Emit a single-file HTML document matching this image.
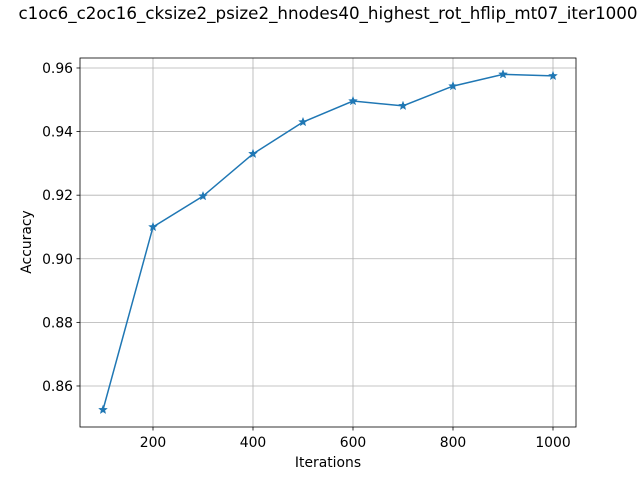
<!DOCTYPE html>
<html><head><meta charset="utf-8"><style>
body{margin:0;background:#fff;}
svg text{font-family:"DejaVu Sans","Liberation Sans",sans-serif;}
</style></head><body>
<svg id="chart" width="640" height="480" xmlns="http://www.w3.org/2000/svg">
<rect width="640" height="480" fill="#fff"/>
<text x="328" y="19" font-size="16.7" text-anchor="middle">c1oc6_c2oc16_cksize2_psize2_hnodes40_highest_rot_hflip_mt07_iter1000</text>
<g id="grid"></g>
<g id="ticks"></g>
<path id="line" fill="none" stroke="#1f77b4" stroke-width="1.5"/>
<g id="markers"></g>
<rect x="80" y="58" width="496" height="369" fill="none" stroke="#000" stroke-width="0.8"/>
<text x="328" y="467" font-size="13.9" text-anchor="middle">Iterations</text>
<text x="31" y="242" font-size="13.9" text-anchor="middle" transform="rotate(-90 31 242)">Accuracy</text>
</svg>
<script>
const iterations=[100,200,300,400,500,600,700,800,900,1000];
const accuracy=[0.8525,0.9100,0.9197,0.9330,0.9430,0.9496,0.9481,0.9543,0.9580,0.9575];
const xTicks=[200,400,600,800,1000];
const yTicks=[0.86,0.88,0.90,0.92,0.94,0.96];
const L=80,R=576,T=58,B=427;
const xMin=54,xMax=1046,yMin=0.84710,yMax=0.96314;
const xs=v=>L+(v-xMin)/(xMax-xMin)*(R-L);
const ys=v=>B-(v-yMin)/(yMax-yMin)*(B-T);
const NS="http://www.w3.org/2000/svg";
function mk(tag,attrs,parent){const e=document.createElementNS(NS,tag);for(const k in attrs)e.setAttribute(k,attrs[k]);parent.appendChild(e);return e;}
const grid=document.getElementById('grid'),ticks=document.getElementById('ticks');
xTicks.forEach(t=>{const x=xs(t);
 const g=mk('line',{x1:x,x2:x,y1:T,y2:B,stroke:'#b0b0b0','stroke-width':0.8},grid);
 
 
 mk('line',{x1:x,x2:x,y1:B,y2:B+3.5,stroke:'#000','stroke-width':0.8},ticks);
 const tx=mk('text',{x:x,y:B+20,'font-size':13.9,'text-anchor':'middle'},ticks);tx.textContent=t;
 
 
});
yTicks.forEach(t=>{const y=ys(t);
 const g=mk('line',{x1:L,x2:R,y1:y,y2:y,stroke:'#b0b0b0','stroke-width':0.8},grid);
 
 
 mk('line',{x1:L-3.5,x2:L,y1:y,y2:y,stroke:'#000','stroke-width':0.8},ticks);
 const tx=mk('text',{x:L-7,y:y+5,'font-size':13.9,'text-anchor':'end'},ticks);tx.textContent=t.toFixed(2);
 
 
});
document.getElementById('line').setAttribute('d',iterations.map((v,i)=>(i?'L':'M')+xs(v)+' '+ys(accuracy[i])).join(' '));
const mg=document.getElementById('markers');
function star(cx,cy,r){let p=[];for(let i=0;i<10;i++){const a=-Math.PI/2+i*Math.PI/5;const rr=i%2?r*0.42:r;p.push((cx+rr*Math.cos(a)).toFixed(2)+','+(cy+rr*Math.sin(a)).toFixed(2));}return p.join(' ');}
iterations.forEach((v,i)=>{
 const s=mk('polygon',{points:star(xs(v),ys(accuracy[i]),4.5),fill:'#1f77b4',stroke:'#1f77b4','stroke-width':0.5},mg);
 
 
});
</script>
</body></html>
